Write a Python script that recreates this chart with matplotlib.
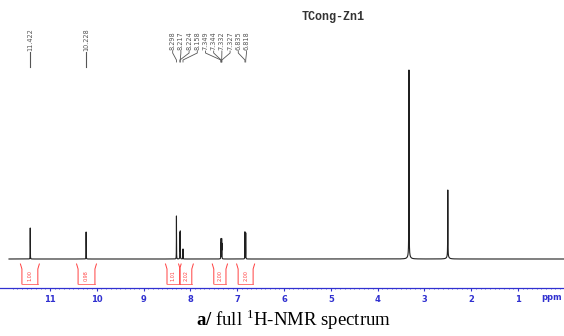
import numpy as np
import matplotlib
matplotlib.use("Agg")
import matplotlib.pyplot as plt

# ---------------- data ----------------
title = "TCong-Zn1"
peak_ppm = [11.422, 10.228, 8.298, 8.224, 8.217, 8.158, 7.349, 7.344, 7.332, 7.327,
            6.835, 6.818, 3.33, 2.50]
peak_height = [31, 27, 43, 25, 27, 10, 14, 19, 19, 14, 27, 26, 186, 67]
peak_width = [0.0015] * 12 + [0.0025, 0.0025]
broad_ppm = [3.33, 2.50]
broad_height = [3, 2]

single_labels = [11.422, 10.228]
group_labels = [8.298, 8.217, 8.224, 8.158, 7.349, 7.344, 7.332, 7.327, 6.835, 6.818]

integral_regions = [(11.60, 11.26), (10.40, 10.04), (8.50, 8.23), (8.22, 7.97),
                    (7.50, 7.24), (6.98, 6.66)]
integral_values = ["1.00", "0.98", "1.01", "2.02", "2.00", "2.00"]

major_ticks = [1, 2, 3, 4, 5, 6, 7, 8, 9, 10, 11]

# ---------------- layout helpers ----------------
PX_PER_PPM = 46.8
X11 = 50.0          # pixel x of 11 ppm
BASE = 259.0        # pixel y of spectrum baseline


def ppm_of(xpx):
    return 11 - (xpx - X11) / PX_PER_PPM


def inten_of(ypx):
    return BASE - ypx


fig = plt.figure(figsize=(5.64, 3.36), dpi=100)
ax = fig.add_axes([0, 0, 1, 1])
ax.set_xlim(ppm_of(0), ppm_of(564))
ax.set_ylim(inten_of(336), inten_of(0))
for s in ["left", "top", "right"]:
    ax.spines[s].set_visible(False)
ax.set_yticks([])

# ---------------- spectrum ----------------
x = np.linspace(ppm_of(9), ppm_of(564), 30000)
x = np.sort(np.concatenate([x, np.array(peak_ppm)]))[::-1]
y = np.zeros_like(x)
for p, h, w in zip(peak_ppm, peak_height, peak_width):
    y += h / (1 + ((x - p) / w) ** 2)
for p, h in zip(broad_ppm, broad_height):
    y += h / (1 + ((x - p) / 0.03) ** 2)
ax.plot(x, y, color="#202020", lw=0.8)

# ---------------- peak labels ----------------
lab_color = "#555555"
lab_fs = 4.7
for p in single_labels:
    ax.text(p, inten_of(51), f"{p:.3f}", rotation=90, ha="center", va="bottom",
            fontsize=lab_fs, color=lab_color)
    ax.plot([p, p], [inten_of(52), inten_of(67)], color=lab_color, lw=0.8)

n = len(group_labels)
center_px = X11 + (11 - np.mean(group_labels)) * PX_PER_PPM
spacing = 8.2
for i, p in enumerate(group_labels):
    lx = ppm_of(center_px + (i - (n - 1) / 2) * spacing)
    ax.text(lx, inten_of(50), f"{p:.3f}", rotation=90, ha="center", va="bottom",
            fontsize=lab_fs, color=lab_color)
    ax.plot([lx, lx, p, p], [inten_of(51), inten_of(53), inten_of(60), inten_of(62)],
            color=lab_color, lw=0.6)

# ---------------- integrals ----------------
red = "#ff4040"
dpx = 1.0 / PX_PER_PPM
for (a, b), v in zip(integral_regions, integral_values):
    ax.plot([a + 1.5 * dpx, a, a], [inten_of(264), inten_of(269), inten_of(284)],
            color=red, lw=0.7)
    ax.plot([b - 1.5 * dpx, b, b], [inten_of(264), inten_of(269), inten_of(284)],
            color=red, lw=0.7)
    ax.plot([a, b], [inten_of(284), inten_of(284)], color=red, lw=0.5)
    ax.text((a + b) / 2, inten_of(276), v, rotation=90, ha="center", va="center",
            fontsize=3.5, color=red)

# ---------------- axis ----------------
blue = "#3030d0"
ax.spines["bottom"].set_position(("data", inten_of(288)))
ax.spines["bottom"].set_color(blue)
ax.spines["bottom"].set_linestyle((0, (1, 1)))
ax.spines["bottom"].set_linewidth(0.9)
ax.set_xticks(major_ticks)
ax.set_xticklabels([str(t) for t in major_ticks])
ax.set_xticks(np.arange(0.1, 11.9, 0.1), minor=True)
ax.tick_params(axis="x", which="major", direction="out", length=2, width=0.8,
               color=blue, labelcolor=blue, labelsize=6, pad=3)
ax.tick_params(axis="x", which="minor", direction="out", length=0.8, width=0.5,
               color=blue)
for lab in ax.get_xticklabels():
    lab.set_fontweight("bold")
ax.text(ppm_of(552), inten_of(297), "ppm", ha="center", va="center",
        fontsize=6, color=blue, fontweight="bold")

# ---------------- titles ----------------
ax.text(ppm_of(333), inten_of(17), title, ha="center", va="center",
        fontsize=8.5, fontweight="bold", family="Liberation Mono", color="#333333")

plt.rcParams["mathtext.fontset"] = "custom"
plt.rcParams["mathtext.rm"] = "Liberation Serif"
plt.rcParams["mathtext.bf"] = "Liberation Serif:bold"
ax.text(ppm_of(293), inten_of(320), r"$\mathbf{a/}$ full $^{\mathrm{1}}$H-NMR spectrum",
        ha="center", va="center", fontsize=13.5, family="Liberation Serif", color="black")

fig.savefig("out.png", dpi=100)
